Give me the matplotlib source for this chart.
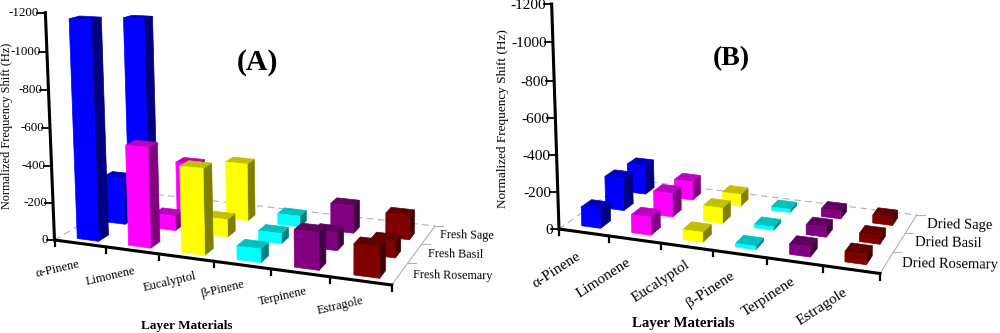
import numpy as np
import matplotlib
matplotlib.use("Agg")
import matplotlib.pyplot as plt
from matplotlib.patches import Polygon

plt.rcParams['font.family'] = ['Liberation Serif', 'DejaVu Serif']

categories = ['α-Pinene', 'Limonene', 'Eucalyptol', 'β-Pinene', 'Terpinene', 'Estragole']
z_ticks = [0, -200, -400, -600, -800, -1000, -1200]

series_a = ['Fresh Rosemary', 'Fresh Basil', 'Fresh Sage']
rosemary_a = [-1165, -530, -450, -70, -190, -155]
basil_a = [-255, -80, -95, -55, -95, -85]
sage_a = [-1090, -290, -320, -60, -150, -130]

series_b = ['Dried Rosemary', 'Dried Basil', 'Dried Sage']
rosemary_b = [-104, -98, -54, -18, -54, -54]
basil_b = [-182, -132, -86, -18, -54, -45]
sage_b = [-166, -107, -68, -18, -45, -45]

front = ['#0000ff', '#ff00ff', '#ffff00', '#00ffff', '#800080', '#800000']
side = ['#000080', '#800080', '#808000', '#008080', '#400040', '#400000']
top = ['#0000c0', '#c000c0', '#c0c000', '#00c0c0', '#600060', '#600000']


def make_camera(corners, axis_top, vanish):
    # floor homography from the 4 corners, x 0-6 and y 0-3
    src = [(0, 0), (6, 0), (6, 3), (0, 3)]
    A, b = [], []
    for (x, y), (u, v) in zip(src, corners):
        A.append([x, y, 1, 0, 0, 0, -u * x, -u * y])
        A.append([0, 0, 0, x, y, 1, -v * x, -v * y])
        b += [u, v]
    h = np.linalg.solve(np.array(A, float), np.array(b, float))
    H = np.append(h, 1).reshape(3, 3)
    # vertical scale from the top of the axis
    o = corners[0]
    s = (axis_top[1] - o[1]) / (1200 * (vanish[1] - axis_top[1]))
    z_col = s * np.array([vanish[0], vanish[1], 1.0])

    def project(x, y, z):
        p = H @ np.array([x, y, 1.0]) + z_col * z
        return p[0] / p[2], p[1] / p[2]
    return project


def draw_panel(ax, project, values, series, cfg):
    # walls, floor lines
    pts = [project(6, 0, 0), project(6, 3, 0)]
    ax.plot(*zip(*pts), color='#b0b0b0', lw=0.8, zorder=1)
    pts = [project(0, 0, 0), project(0, 3, 0)]
    ax.plot(*zip(*pts), color='#b0b0b0', lw=0.8, ls=(0, (6, 4)), zorder=1)
    pts = [project(0, 3, 0), project(6, 3, 0)]
    ax.plot(*zip(*pts), color='#b0b0b0', lw=0.8, ls=(0, (6, 4)), zorder=1)

    # bars, back row first
    w, d = cfg['bar_w'], cfg['bar_d']
    n = 2
    for j in [2, 1, 0]:
        for i in range(len(categories)):
            h = -values[j][i]
            xc = i + cfg['cat_c']
            x0, x1 = xc - w / 2, xc + w / 2
            yc = cfg['rows'][j]
            y0, y1 = yc - d / 2, yc + d / 2
            faces = [
                ([(x1, y0, 0), (x1, y1, 0), (x1, y1, h), (x1, y0, h)], side[i]),
                ([(x0, y0, h), (x1, y0, h), (x1, y1, h), (x0, y1, h)], top[i]),
                ([(x0, y0, 0), (x1, y0, 0), (x1, y0, h), (x0, y0, h)], front[i]),
            ]
            for corners, col in faces:
                poly = [project(*c) for c in corners]
                ax.add_patch(Polygon(poly, closed=True, facecolor=col, edgecolor=col,
                                     lw=0.5, zorder=n))
                n += 1

    # axes
    pts = [project(0, 0, 0), project(0, 0, 1200)]
    ax.plot(*zip(*pts), color='k', lw=2.2, zorder=n, solid_capstyle='projecting')
    pts = [project(0, 0, 0), project(6, 0, 0)]
    ax.plot(*zip(*pts), color='k', lw=2.2, zorder=n, solid_capstyle='projecting')

    for t in z_ticks:
        px, py = project(0, 0, -t)
        ax.plot([px - 8, px], [py, py], color='k', lw=1.3, zorder=n)
        ax.text(px - 6, py + cfg['tick_dy'], str(t), ha='right', va='center',
                fontsize=cfg['tick_fs'], zorder=n)
    for i in range(7):
        px, py = project(i, 0, 0)
        ax.plot([px, px], [py, py + 6], color='k', lw=1.6, zorder=n)
    for j in [1, 2, 3]:
        px, py = project(6, j, 0)
        ax.plot([px, px + 8], [py, py], color='#b0b0b0', lw=0.8, zorder=1)

    for name, pos in zip(categories, cfg['cat_pos']):
        ax.text(pos[0], pos[1], name, ha='center', va='center', rotation=cfg['cat_rot'],
                rotation_mode='anchor', fontsize=cfg['cat_fs'])
    for name, pos in zip(series, cfg['ser_pos']):
        ax.text(pos[0], pos[1], name, ha='left', va='center', rotation=cfg['ser_rot'],
                rotation_mode='anchor', fontsize=cfg['ser_fs'])

    ax.text(*cfg['ylabel_pos'], 'Normalized Frequency Shift (Hz)', ha='center', va='center',
            rotation=90, fontsize=cfg['ylabel_fs'])
    ax.text(*cfg['xlabel_pos'], 'Layer Materials', ha='center', va='center',
            fontweight='bold', fontsize=cfg['xlabel_fs'])
    ax.text(*cfg['title_pos'], cfg['title'], ha='center', va='center',
            fontweight='bold', fontsize=cfg['title_fs'])


fig = plt.figure(figsize=(10, 3.33), dpi=100)
ax = fig.add_axes([0, 0, 1, 1])
ax.set_xlim(0, 1000)
ax.set_ylim(333, 0)
ax.axis('off')

cam_a = make_camera([(54.5, 240), (391.7, 285), (435, 226), (135, 192)], (45.5, 12.7), (350, 7600))
cfg_a = dict(bar_w=0.42, bar_d=0.35, cat_c=0.54, rows=[0.38, 1.35, 2.3], tick_fs=9.4, tick_dy=0,
             cat_fs=9, cat_rot=13, ser_fs=8.7, ser_rot=-1, ylabel_fs=8.8, xlabel_fs=9.5, title_fs=21.5,
             cat_pos=[(58, 269), (111, 276), (170, 282), (222, 289), (283, 297), (340, 306)],
             ser_pos=[(413, 275), (428, 254), (440, 235)],
             ylabel_pos=(7, 126), xlabel_pos=(187, 326), title_pos=(258, 63), title='(A)')
draw_panel(ax, cam_a, [rosemary_a, basil_a, sage_a], series_a, cfg_a)

cam_b = make_camera([(559, 229), (880, 273.5), (916.7, 215), (628.7, 179.3)], (550, 4), (800, 7600))
cfg_b = dict(bar_w=0.38, bar_d=0.42, cat_c=0.5, rows=[0.5, 1.5, 2.5], tick_fs=11, tick_dy=1.5,
             cat_fs=11, cat_rot=33, ser_fs=10.5, ser_rot=-1, ylabel_fs=9.5, xlabel_fs=10.7, title_fs=20,
             cat_pos=[(556, 270), (604, 278), (661, 282), (710, 290), (769, 297), (822, 307)],
             ser_pos=[(902, 264), (915, 243), (927, 225)],
             ylabel_pos=(503, 119), xlabel_pos=(683, 324), title_pos=(731, 59), title='(B)')
draw_panel(ax, cam_b, [rosemary_b, basil_b, sage_b], series_b, cfg_b)

fig.savefig('out.png', dpi=100)
